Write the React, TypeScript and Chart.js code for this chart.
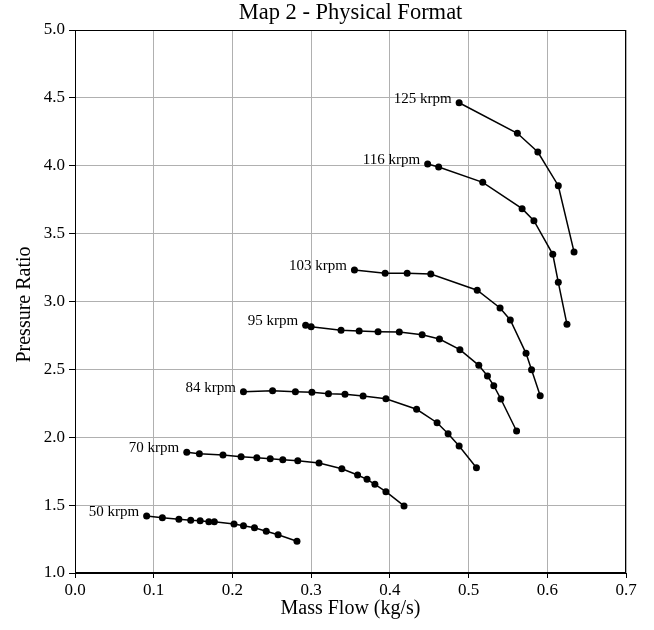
import React, { useEffect, useRef } from "react";
import { Chart, registerables } from "chart.js";

Chart.register(...registerables);

// Compressor speed lines: mass flow (kg/s) vs pressure ratio
const speedLabels = ["50 krpm", "70 krpm", "84 krpm", "95 krpm", "103 krpm", "116 krpm", "125 krpm"];

const flow50 = [0.091, 0.111, 0.132, 0.147, 0.159, 0.170, 0.177, 0.202, 0.214, 0.228, 0.243, 0.258, 0.282];
const pr50 = [1.420, 1.407, 1.396, 1.388, 1.385, 1.378, 1.378, 1.361, 1.348, 1.334, 1.307, 1.282, 1.234];

const flow70 = [0.142, 0.158, 0.188, 0.211, 0.231, 0.248, 0.264, 0.283, 0.310, 0.339, 0.359, 0.371, 0.381, 0.395, 0.418];
const pr70 = [1.889, 1.879, 1.869, 1.857, 1.849, 1.842, 1.835, 1.827, 1.810, 1.768, 1.722, 1.690, 1.653, 1.599, 1.494];

const flow84 = [0.214, 0.251, 0.280, 0.301, 0.322, 0.343, 0.366, 0.395, 0.434, 0.460, 0.474, 0.488, 0.510];
const pr84 = [2.336, 2.343, 2.336, 2.331, 2.321, 2.316, 2.304, 2.284, 2.206, 2.107, 2.026, 1.936, 1.776];

const flow95 = [0.293, 0.300, 0.338, 0.361, 0.385, 0.412, 0.441, 0.463, 0.489, 0.513, 0.524, 0.532, 0.541, 0.561];
const pr95 = [2.825, 2.814, 2.788, 2.783, 2.778, 2.775, 2.755, 2.724, 2.645, 2.530, 2.451, 2.380, 2.282, 2.046];

const flow103 = [0.355, 0.394, 0.422, 0.452, 0.511, 0.540, 0.553, 0.573, 0.580, 0.591];
const pr103 = [3.232, 3.208, 3.208, 3.203, 3.083, 2.952, 2.864, 2.618, 2.498, 2.306];

const flow116 = [0.448, 0.462, 0.518, 0.568, 0.583, 0.607, 0.614, 0.625];
const pr116 = [4.013, 3.991, 3.878, 3.684, 3.595, 3.348, 3.141, 2.832];

const flow125 = [0.488, 0.562, 0.588, 0.614, 0.634];
const pr125 = [4.464, 4.239, 4.101, 3.853, 3.365];

const flowSeries = [flow50, flow70, flow84, flow95, flow103, flow116, flow125];
const prSeries = [pr50, pr70, pr84, pr95, pr103, pr116, pr125];

const chartTitle = "Map 2 - Physical Format";
const xTitle = "Mass Flow (kg/s)";
const yTitle = "Pressure Ratio";

const FONT = "'Liberation Serif', 'Times New Roman', serif";

const framePlugin = {
  id: "frameAndText",
  afterDatasetsDraw(chart: any) {
    const { ctx, chartArea } = chart;
    const { left, right, top, bottom } = chartArea;
    ctx.save();
    // full box around the plot
    ctx.strokeStyle = "#000";
    ctx.lineWidth = 1;
    ctx.strokeRect(left + 0.5, top + 0.5, right - left - 1, bottom - top - 1);

    // speed-line labels next to the first point of each line
    ctx.fillStyle = "#000";
    ctx.font = `15px ${FONT}`;
    ctx.textAlign = "right";
    ctx.textBaseline = "middle";
    chart.data.datasets.forEach((ds: any, i: number) => {
      const meta = chart.getDatasetMeta(i);
      const p = meta.data[0];
      if (!p) return;
      ctx.fillText(ds.label, p.x - 7.5, p.y - 4);
    });

    // title
    ctx.textAlign = "center";
    ctx.textBaseline = "middle";
    ctx.font = `22.5px ${FONT}`;
    ctx.fillText(chartTitle, (left + right) / 2, 13);

    // axis titles
    ctx.font = `20px ${FONT}`;
    ctx.fillText(xTitle, (left + right) / 2, 609);
    ctx.save();
    ctx.translate(25, (top + bottom) / 2 + 3);
    ctx.rotate(-Math.PI / 2);
    ctx.fillText(yTitle, 0, 0);
    ctx.restore();
    ctx.restore();
  },
};

export default function App() {
  const canvasRef = useRef<HTMLCanvasElement | null>(null);

  useEffect(() => {
    if (!canvasRef.current) return;
    const datasets = speedLabels.map((label, i) => ({
      label,
      data: flowSeries[i].map((x, j) => ({ x, y: prSeries[i][j] })),
      showLine: true,
      borderColor: "#000",
      backgroundColor: "#000",
      borderWidth: 1.5,
      pointRadius: 3.5,
      pointBackgroundColor: "#000",
      pointBorderColor: "#000",
      pointBorderWidth: 0,
      tension: 0,
    }));

    const chart = new Chart(canvasRef.current, {
      type: "scatter",
      data: { datasets },
      options: {
        animation: false,
        responsive: false,
        maintainAspectRatio: false,
        devicePixelRatio: 1,
        layout: { padding: { top: 30, right: 28, left: 0, bottom: 0 } },
        plugins: {
          legend: { display: false },
          title: { display: false },
          tooltip: { enabled: false },
        },
        scales: {
          x: {
            type: "linear",
            min: 0,
            max: 0.7,
            afterFit: (scale: any) => {
              scale.height = 57;
            },
            ticks: {
              stepSize: 0.1,
              color: "#000",
              font: { family: FONT, size: 17 },
              padding: 2,
              maxRotation: 0,
              callback: (v: any) => Number(v).toFixed(1),
            },
            grid: {
              color: "#b0b0b0",
              lineWidth: 1,
              tickColor: "#000",
              tickLength: 5,
              drawTicks: true,
            },
            border: { color: "#000", width: 1 },
          },
          y: {
            type: "linear",
            min: 1,
            max: 5,
            afterFit: (scale: any) => {
              scale.width = 75;
            },
            ticks: {
              stepSize: 0.5,
              color: "#000",
              font: { family: FONT, size: 17 },
              padding: 4,
              callback: (v: any) => Number(v).toFixed(1),
            },
            grid: {
              color: "#b0b0b0",
              lineWidth: 1,
              tickColor: "#000",
              tickLength: 6,
              drawTicks: true,
            },
            border: { color: "#000", width: 1 },
          },
        },
      },
      plugins: [framePlugin],
    });
    return () => chart.destroy();
  }, []);

  return (
    <div style={{ position: "fixed", left: 0, top: 0, width: 654, height: 630, background: "#fff" }}>
      <canvas ref={canvasRef} width={654} height={630} style={{ width: 654, height: 630 }} />
    </div>
  );
}
